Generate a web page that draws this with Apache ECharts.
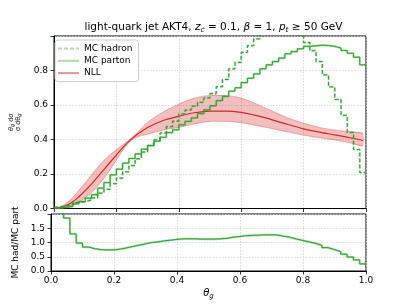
<!DOCTYPE html>
<html>
<head>
<meta charset="utf-8">
<script src="https://cdn.jsdelivr.net/npm/echarts@6/dist/echarts.min.js"></script>
<style>
html,body{margin:0;padding:0;background:#fff;}
#c{width:407px;height:305px;}
</style>
</head>
<body>
<div id="c"></div>
<script>
// ---- data ----
const binEdges = [0.00,0.02,0.04,0.06,0.08,0.10,0.12,0.14,0.16,0.18,0.20,0.22,0.24,0.26,0.28,0.30,0.32,0.34,0.36,0.38,0.40,0.42,0.44,0.46,0.48,0.50,0.52,0.54,0.56,0.58,0.60,0.62,0.64,0.66,0.68,0.70,0.72,0.74,0.76,0.78,0.80,0.82,0.84,0.86,0.88,0.90,0.92,0.94,0.96,0.98,1.00];
const mcParton = [0.002,0.006,0.012,0.027,0.040,0.060,0.080,0.118,0.150,0.195,0.228,0.263,0.290,0.317,0.344,0.365,0.390,0.413,0.440,0.456,0.485,0.505,0.525,0.550,0.572,0.595,0.625,0.650,0.680,0.700,0.730,0.755,0.780,0.810,0.833,0.852,0.872,0.897,0.910,0.926,0.940,0.943,0.947,0.945,0.940,0.930,0.916,0.900,0.877,0.833];
const mcHadron = [0.008,0.015,0.022,0.035,0.039,0.050,0.062,0.089,0.111,0.144,0.176,0.213,0.249,0.288,0.327,0.365,0.398,0.438,0.475,0.506,0.548,0.571,0.593,0.616,0.641,0.666,0.706,0.748,0.809,0.847,0.905,0.944,0.983,1.029,1.058,1.074,1.064,1.058,1.019,1.005,0.962,0.915,0.852,0.775,0.705,0.632,0.540,0.441,0.342,0.208];
const ratioHadParton = [4.0,2.5,1.86,1.30,0.98,0.84,0.78,0.75,0.74,0.74,0.77,0.81,0.86,0.91,0.95,1.00,1.02,1.06,1.08,1.11,1.13,1.13,1.13,1.12,1.12,1.12,1.13,1.15,1.19,1.21,1.24,1.25,1.26,1.27,1.27,1.26,1.22,1.18,1.12,1.07,1.02,0.97,0.90,0.82,0.75,0.68,0.59,0.49,0.39,0.25];
const nllX   = [0,0.025,0.05,0.075,0.1,0.125,0.15,0.175,0.2,0.225,0.25,0.275,0.3,0.35,0.4,0.45,0.5,0.55,0.6,0.65,0.7,0.75,0.8,0.85,0.9,0.95,0.99];
const nllMid = [0,0.008,0.027,0.060,0.104,0.152,0.205,0.258,0.310,0.362,0.405,0.440,0.470,0.510,0.535,0.555,0.565,0.565,0.557,0.538,0.514,0.487,0.462,0.443,0.427,0.410,0.394];
const nllUp  = [0,0.014,0.046,0.095,0.150,0.205,0.260,0.305,0.342,0.375,0.412,0.455,0.500,0.560,0.605,0.640,0.655,0.655,0.640,0.605,0.565,0.525,0.495,0.470,0.455,0.445,0.437];
const nllLo  = [0,0.003,0.012,0.032,0.062,0.100,0.152,0.212,0.280,0.350,0.398,0.420,0.430,0.455,0.470,0.490,0.505,0.505,0.497,0.480,0.463,0.443,0.425,0.410,0.397,0.380,0.362];

// ---- build library data ----
const stepPts = v => binEdges.map((x,i) => [x, v[Math.min(i, v.length-1)]]);
const pts = v => nllX.map((x,i) => [x, v[i]]);

const FONT = 'DejaVu Sans';
const GREEN = '#2ca02c', RED = '#d62728';
const HALO = 'rgba(44,160,44,0.38)';
const gridLine = {show:true, lineStyle:{color:'#d0d0d0', width:0.8, type:[1.5,1.5]}};
const tick = {show:true, inside:false, length:3.5, lineStyle:{color:'#000', width:0.8}};
const axLine = {show:true, onZero:false, lineStyle:{color:'#000', width:1}};
const lbl = {fontFamily:FONT, fontSize:9, color:'#000'};

const chart = echarts.init(document.getElementById('c'), null, {renderer:'canvas'});
const smoothV = 0.3;
function ln(name, data, color, width, extra){
  return Object.assign({name, type:'line', data, symbol:'none', showSymbol:false, silent:true,
    lineStyle:{color, width}, itemStyle:{color}, animation:false, xAxisIndex:0, yAxisIndex:0}, extra||{});
}
const bandSeries = {
  name:'nllBand', type:'custom', xAxisIndex:0, yAxisIndex:0, silent:true, clip:true, animation:false,
  data:[[0,0]],
  renderItem:(params, api) => {
    const up = nllX.map((x,i) => api.coord([x, nllUp[i]]));
    const lo = nllX.map((x,i) => api.coord([x, nllLo[i]])).reverse();
    return {type:'polygon', shape:{points: up.concat(lo), smooth:0.25},
            style:{fill:'rgba(214,39,40,0.3)', stroke:'none'}};
  }
};
const rt = (size, extra) => Object.assign({fontFamily:FONT, fontSize:size, fontWeight:'normal', color:'#000'}, extra||{});
chart.setOption({
  animation:false,
  backgroundColor:'#fff',
  title:{
    left:208.5, top:15, textAlign:'center',
    text:'{n|light-quark jet AKT4, }{i|z}{s|c}{n| = 0.1, }{i|β}{n| = 1, }{i|p}{s|t}{n| ≥ 50 GeV}',
    textStyle:{fontWeight:'normal', rich:{
      n:rt(10.5,{lineHeight:14}),
      i:rt(10.5,{lineHeight:14, fontStyle:'italic'}),
      s:rt(7.5,{lineHeight:8, fontStyle:'italic', verticalAlign:'bottom'})
    }}
  },
  legend:{
    left:55, top:40, orient:'vertical',
    data:['MC hadron','MC parton','NLL'],
    itemWidth:21, itemHeight:10, itemGap:3.3,
    padding:[4,6,4,2],
    itemStyle:{opacity:0, borderWidth:0},
    backgroundColor:'rgba(255,255,255,0.85)', borderColor:'#cccccc', borderWidth:1, borderRadius:3,
    textStyle:{fontFamily:FONT, fontSize:9, color:'#000'},
    selectedMode:false
  },
  grid:[
    {left:51, top:36, width:315, height:172.5, show:true, borderColor:'#000', borderWidth:1, backgroundColor:'#fff', containLabel:false},
    {left:51, top:214, width:315, height:57, show:true, borderColor:'#000', borderWidth:1, backgroundColor:'#fff', containLabel:false}
  ],
  xAxis:[
    {type:'value', gridIndex:0, min:0, max:1, interval:0.2, axisLine:axLine, axisTick:tick,
     axisLabel:{show:false}, splitLine:gridLine},
    {type:'value', gridIndex:1, min:0, max:1, interval:0.2, axisLine:axLine, axisTick:tick,
     axisLabel:Object.assign({margin:5, formatter:v=>v.toFixed(1)}, lbl), splitLine:gridLine,
     name:'{i|θ}{s|g}', nameLocation:'middle', nameGap:16,
     nameTextStyle:{rich:{
       i:rt(10,{lineHeight:13, fontStyle:'italic'}),
       s:rt(7,{lineHeight:8, fontStyle:'italic', verticalAlign:'bottom'})
     }}}
  ],
  yAxis:[
    {type:'value', gridIndex:0, min:0, max:1, interval:0.2, axisLine:axLine, axisTick:tick,
     axisLabel:Object.assign({margin:6, formatter:v=> v>=0.999 ? '' : v.toFixed(1)}, lbl), splitLine:gridLine,
     name:'{a|θ}{b|g}{c| dσ}\n{c|σ dθ}{b|g}', nameLocation:'middle', nameRotate:90, nameGap:32,
     nameTextStyle:{align:'center', rich:{
       a:rt(6.5,{lineHeight:7, fontStyle:'italic'}),
       b:rt(5,{lineHeight:5, fontStyle:'italic', verticalAlign:'bottom'}),
       c:rt(6.5,{lineHeight:7})
     }}},
    {type:'value', gridIndex:1, min:0, max:2, interval:0.5, axisLine:axLine, axisTick:tick,
     axisLabel:Object.assign({margin:6, formatter:v=> v>=1.999 ? '' : v.toFixed(1)}, lbl), splitLine:gridLine,
     name:'MC had/MC part', nameLocation:'middle', nameRotate:90, nameGap:25,
     nameTextStyle:{fontFamily:FONT, fontSize:9, color:'#000'}}
  ],
  series:[
    bandSeries,
    ln('nllUpper', pts(nllUp), 'rgba(214,39,40,0.4)', 0.8, {smooth:smoothV}),
    ln('nllLower', pts(nllLo), 'rgba(214,39,40,0.4)', 0.8, {smooth:smoothV}),
    ln('nllMid', pts(nllMid), RED, 1.2, {smooth:smoothV}),
    ln('MC hadron', stepPts(mcHadron), HALO, 2.2, {step:'end', lineStyle:{color:HALO, width:2.2, type:[4,2]}}),
    ln('hadronLine', stepPts(mcHadron), GREEN, 1, {step:'end', lineStyle:{color:GREEN, width:1, type:[4,2]}}),
    ln('MC parton', stepPts(mcParton), HALO, 2.2, {step:'end'}),
    ln('partonLine', stepPts(mcParton), GREEN, 1, {step:'end'}),
    ln('NLL', [], 'rgba(214,39,40,0.5)', 2.2, {}),
    ln('ratioHalo', stepPts(ratioHadParton), HALO, 2.2, {step:'end', xAxisIndex:1, yAxisIndex:1}),
    ln('ratioLine', stepPts(ratioHadParton), GREEN, 1, {step:'end', xAxisIndex:1, yAxisIndex:1})
  ]
});
</script>
</body>
</html>
